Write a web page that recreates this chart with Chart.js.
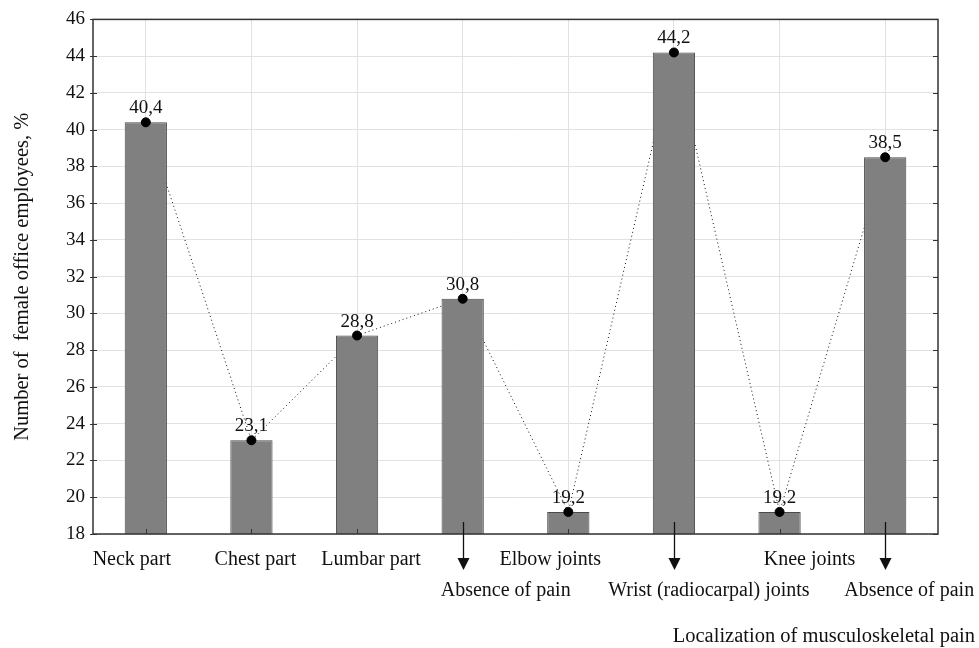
<!DOCTYPE html>
<html lang="en">

<head>
    <meta charset="UTF-8">
    <title>Localization of musculoskeletal pain</title>
    <script src="https://cdn.jsdelivr.net/npm/chart.js@4.4.0/dist/chart.umd.min.js"></script>
    <style>
        body { margin: 0; background: #fff; }
    </style>
</head>

<body>
    <canvas id="painChart" width="979" height="648"></canvas>
    <script>
        var categories = ['Neck part', 'Chest part', 'Lumbar part', 'Absence of pain', 'Elbow joints',
            'Wrist (radiocarpal) joints', 'Knee joints', 'Absence of pain'];
        var values = [40.4, 23.1, 28.8, 30.8, 19.2, 44.2, 19.2, 38.5];
        // labels with an arrow go on the second row under the axis
        var arrowed = [false, false, false, true, false, true, false, true];
        var yTicks = { min: 18, max: 46, step: 2 };
        var yTitle = 'Number of  female office employees, %';
        var xTitle = 'Localization of musculoskeletal pain';

        var serif = '"Liberation Serif", "Times New Roman", serif';

        var decorPlugin = {
            id: 'decor',
            afterDatasetsDraw: function (chart, args, opts) {
                var ctx = chart.ctx;
                var area = chart.chartArea;
                var x = chart.scales.x;
                var y = chart.scales.y;
                ctx.save();

                // inner tick marks on bottom and right side
                ctx.strokeStyle = '#333';
                ctx.lineWidth = 1;
                ctx.beginPath();
                categories.forEach(function (c, i) {
                    var px = Math.round(x.getPixelForValue(i)) + 0.5;
                    ctx.moveTo(px, area.bottom);
                    ctx.lineTo(px, area.bottom - 5);
                });
                for (var v = yTicks.min; v <= yTicks.max; v += yTicks.step) {
                    var py = Math.round(y.getPixelForValue(v)) + 0.5;
                    ctx.moveTo(area.right, py);
                    ctx.lineTo(area.right - 5, py);
                    ctx.moveTo(area.left - 3, py);
                    ctx.lineTo(area.left + 4, py);
                }
                ctx.stroke();

                // frame
                ctx.strokeStyle = '#333';
                ctx.lineWidth = 1.5;
                ctx.strokeRect(area.left, area.top, area.right - area.left, area.bottom - area.top);

                // value labels
                ctx.fillStyle = '#111';
                ctx.font = '19px ' + serif;
                ctx.textAlign = 'center';
                ctx.textBaseline = 'alphabetic';
                values.forEach(function (val, i) {
                    var px = x.getPixelForValue(i);
                    var py = y.getPixelForValue(val);
                    ctx.fillText(String(val).replace('.', ','), px, py - 9);
                });

                // arrows
                ctx.strokeStyle = '#111';
                ctx.fillStyle = '#111';
                ctx.lineWidth = 1.3;
                arrowed.forEach(function (a, i) {
                    if (!a) return;
                    var px = Math.round(x.getPixelForValue(i)) + 0.5;
                    ctx.beginPath();
                    ctx.moveTo(px, area.bottom - 12);
                    ctx.lineTo(px, area.bottom + 26);
                    ctx.stroke();
                    ctx.beginPath();
                    ctx.moveTo(px - 6, area.bottom + 24);
                    ctx.lineTo(px + 6, area.bottom + 24);
                    ctx.lineTo(px, area.bottom + 36);
                    ctx.closePath();
                    ctx.fill();
                });

                // category labels
                ctx.font = '20px ' + serif;
                ctx.fillStyle = '#111';
                ctx.textBaseline = 'middle';
                categories.forEach(function (c, i) {
                    var px = x.getPixelForValue(i) + opts.shift[i];
                    var py = arrowed[i] ? area.bottom + 57 : area.bottom + 26;
                    ctx.fillText(c, px, py);
                });

                // x title
                ctx.font = '20.5px ' + serif;
                ctx.textAlign = 'right';
                ctx.fillText(xTitle, chart.width - 4, area.bottom + 103);

                ctx.restore();
            }
        };

        new Chart('painChart', {
            data: {
                labels: categories,
                datasets: [{
                    type: 'line',
                    data: values,
                    borderColor: '#111',
                    borderWidth: 1,
                    borderDash: [1, 3],
                    pointRadius: 0,
                    tension: 0,
                    fill: false,
                    order: 3
                }, {
                    type: 'bar',
                    data: values,
                    backgroundColor: '#808080',
                    borderColor: '#4a4a4a',
                    borderWidth: 1,
                    barPercentage: 0.4,
                    categoryPercentage: 1,
                    order: 2
                }, {
                    type: 'line',
                    data: values,
                    showLine: false,
                    pointRadius: 4.5,
                    pointBackgroundColor: '#000',
                    pointBorderColor: '#000',
                    order: 1
                }]
            },
            options: {
                responsive: false,
                animation: false,
                layout: { padding: { top: 18, right: 41, left: 0, bottom: 0 } },
                plugins: {
                    legend: { display: false },
                    tooltip: { enabled: false },
                    decor: { shift: [-14, 4, 14, 43, -18, 35, 30, 24] }
                },
                scales: {
                    x: {
                        offset: true,
                        grid: { offset: false, color: '#e2e2e2', drawTicks: false },
                        border: { display: false },
                        ticks: { display: false },
                        afterFit: function (s) { s.height = 114; }
                    },
                    y: {
                        min: yTicks.min,
                        max: yTicks.max,
                        grid: { color: '#e2e2e2', drawTicks: false },
                        border: { display: false },
                        ticks: {
                            stepSize: yTicks.step,
                            padding: 8,
                            color: '#111',
                            font: { family: serif, size: 19 }
                        },
                        title: {
                            display: true,
                            text: yTitle,
                            color: '#111',
                            font: { family: serif, size: 20.5 },
                            padding: { top: 10, bottom: 4 }
                        },
                        afterFit: function (s) { s.width = 93; }
                    }
                }
            },
            plugins: [decorPlugin]
        });
    </script>
</body>

</html>
